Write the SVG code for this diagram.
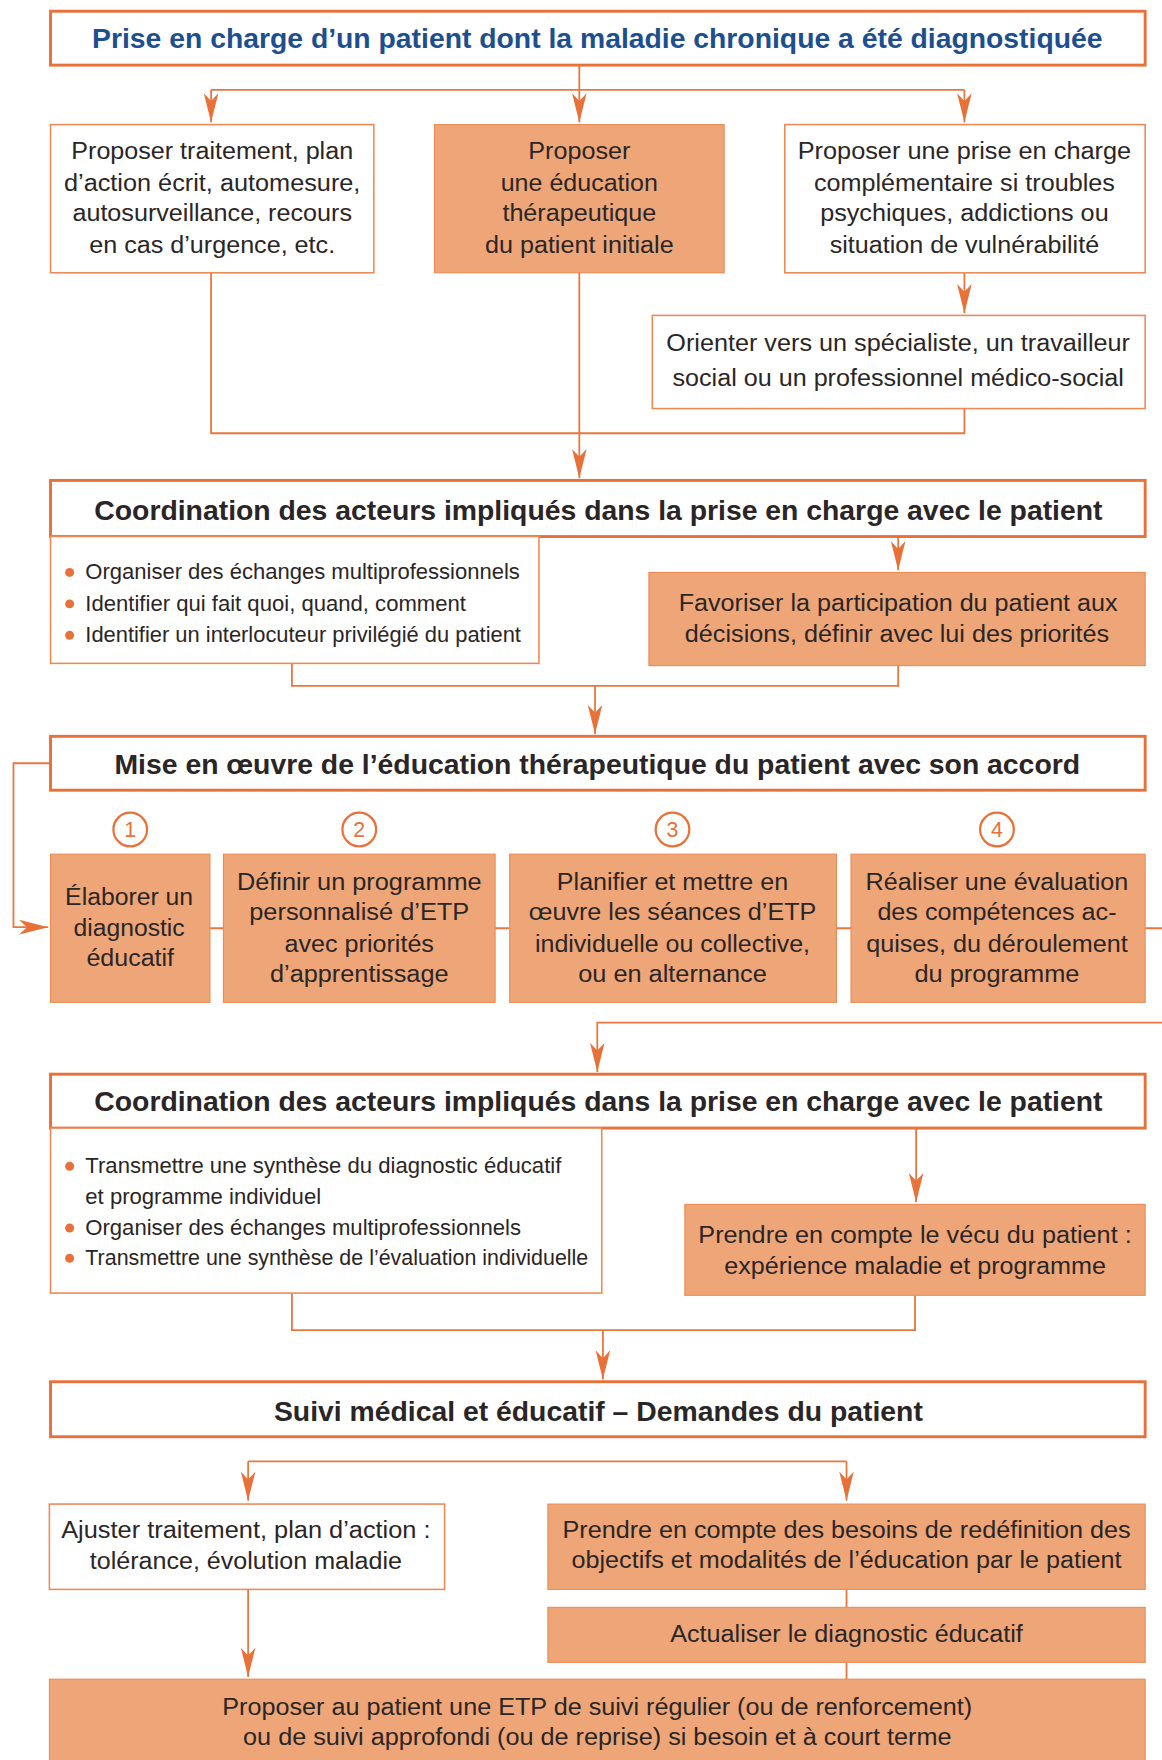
<svg xmlns="http://www.w3.org/2000/svg" width="1162" height="1760" viewBox="0 0 1162 1760">
<defs>
<marker id="ar" markerUnits="userSpaceOnUse" markerWidth="27" markerHeight="14" refX="26" refY="7" orient="auto">
<path d="M0,0.5 L26,7 L0,13.5 L7,7 z" fill="#e8713a"/>
</marker>
<style>
.t{font-family:"Liberation Sans",Arial,sans-serif;fill:#2a2526;text-anchor:middle;font-size:21px}
.l{text-anchor:start;font-size:19px}
.b{font-weight:bold;font-size:24px}
.blue{fill:#1d4f8e}
.hb{fill:#fff;stroke:#e8713a;stroke-width:2.6}
.wb{fill:#fff;stroke:#ec8a55;stroke-width:1.4}
.fb{fill:#eea577;stroke:#ea8c55;stroke-width:1}
.c{fill:none;stroke:#e8773f;stroke-width:1.6}
.a{fill:none;stroke:#e8773f;stroke-width:1.6;marker-end:url(#ar)}
.dot{fill:#e8713a}
.num{fill:#fff;stroke:#e8713a;stroke-width:2}
.nt{font-family:"Liberation Sans",Arial,sans-serif;fill:#e8713a;font-size:19px;text-anchor:middle}
</style>
</defs>
<rect width="1162" height="1760" fill="#fff"/>
<g transform="scale(1.12271,1.12245)">
<g id="connectors">
<path class="c" d="M516 58 V80 M188 80 H859"/>
<path class="a" d="M188 80 V109"/>
<path class="a" d="M516 80 V109"/>
<path class="a" d="M859 80 V109"/>
<path class="a" d="M859 243 V279"/>
<path class="c" d="M188 243 V386 H859 V364"/>
<path class="a" d="M516 243 V426"/>
<path class="a" d="M800 478 V508"/>
<path class="c" d="M260 591 V611 H800 V593"/>
<path class="a" d="M530 611 V654"/>
<path class="a" d="M45 680 H12 V826 H43"/>
<path class="c" d="M187 827 H199 M441 827 H454 M745 827 H758 M1020 827 H1040"/>
<path class="a" d="M1040 911 H532 V955"/>
<path class="a" d="M816 1005 V1071"/>
<path class="c" d="M260 1152 V1185 H815 V1154"/>
<path class="a" d="M537 1185 V1229"/>
<path class="c" d="M221 1302 H754"/>
<path class="a" d="M221 1302 V1337"/>
<path class="a" d="M754 1302 V1337"/>
<path class="c" d="M754 1416 V1432 M754 1481 V1496"/>
<path class="a" d="M221 1416 V1494"/>
</g>

<g id="n-title">
<rect class="hb" x="45" y="10" width="975" height="48"/>
<text class="t b blue" x="532" y="43" textLength="900" lengthAdjust="spacingAndGlyphs">Prise en charge d’un patient dont la maladie chronique a été diagnostiquée</text>
</g>

<g id="n-traitement">
<rect class="wb" x="45" y="111" width="288" height="132"/>
<text class="t" x="189" y="142" textLength="251" lengthAdjust="spacingAndGlyphs">Proposer traitement, plan</text>
<text class="t" x="189" y="170" textLength="264" lengthAdjust="spacingAndGlyphs">d’action écrit, automesure,</text>
<text class="t" x="189" y="197" textLength="249" lengthAdjust="spacingAndGlyphs">autosurveillance, recours</text>
<text class="t" x="189" y="225" textLength="219" lengthAdjust="spacingAndGlyphs">en cas d’urgence, etc.</text>
</g>

<g id="n-etp-initiale">
<rect class="fb" x="387" y="111" width="258" height="132"/>
<text class="t" x="516" y="142" textLength="91" lengthAdjust="spacingAndGlyphs">Proposer</text>
<text class="t" x="516" y="170" textLength="140" lengthAdjust="spacingAndGlyphs">une éducation</text>
<text class="t" x="516" y="197" textLength="137" lengthAdjust="spacingAndGlyphs">thérapeutique</text>
<text class="t" x="516" y="225" textLength="168" lengthAdjust="spacingAndGlyphs">du patient initiale</text>
</g>

<g id="n-complementaire">
<rect class="wb" x="699" y="111" width="321" height="132"/>
<text class="t" x="859" y="142" textLength="297" lengthAdjust="spacingAndGlyphs">Proposer une prise en charge</text>
<text class="t" x="859" y="170" textLength="268" lengthAdjust="spacingAndGlyphs">complémentaire si troubles</text>
<text class="t" x="859" y="197" textLength="257" lengthAdjust="spacingAndGlyphs">psychiques, addictions ou</text>
<text class="t" x="859" y="225" textLength="240" lengthAdjust="spacingAndGlyphs">situation de vulnérabilité</text>
</g>

<g id="n-orienter">
<rect class="wb" x="581" y="281" width="439" height="83"/>
<text class="t" x="800" y="313" textLength="413" lengthAdjust="spacingAndGlyphs">Orienter vers un spécialiste, un travailleur</text>
<text class="t" x="800" y="344" textLength="402" lengthAdjust="spacingAndGlyphs">social ou un professionnel médico-social</text>
</g>

<g id="n-coord1">
<rect class="hb" x="45" y="428" width="975" height="50"/>
<text class="t b" x="533" y="463" textLength="898" lengthAdjust="spacingAndGlyphs">Coordination des acteurs impliqués dans la prise en charge avec le patient</text>
</g>

<g id="n-coord1-list">
<rect class="wb" x="45" y="478" width="435" height="113"/>
<circle class="dot" cx="62" cy="510" r="4"/>
<circle class="dot" cx="62" cy="538" r="4"/>
<circle class="dot" cx="62" cy="566" r="4"/>
<text class="t l" x="76" y="516" textLength="387" lengthAdjust="spacingAndGlyphs">Organiser des échanges multiprofessionnels</text>
<text class="t l" x="76" y="544" textLength="339" lengthAdjust="spacingAndGlyphs">Identifier qui fait quoi, quand, comment</text>
<text class="t l" x="76" y="572" textLength="388" lengthAdjust="spacingAndGlyphs">Identifier un interlocuteur privilégié du patient</text>
</g>

<g id="n-favoriser">
<rect class="fb" x="578" y="510" width="442" height="83"/>
<text class="t" x="800" y="544" textLength="391" lengthAdjust="spacingAndGlyphs">Favoriser la participation du patient aux</text>
<text class="t" x="799" y="572" textLength="378" lengthAdjust="spacingAndGlyphs">décisions, définir avec lui des priorités</text>
</g>

<g id="n-mise">
<rect class="hb" x="45" y="656" width="975" height="48"/>
<text class="t b" x="532" y="690" textLength="860" lengthAdjust="spacingAndGlyphs">Mise en œuvre de l’éducation thérapeutique du patient avec son accord</text>
</g>

<g id="n-step1">
<circle class="num" cx="116" cy="739" r="15"/>
<text class="nt" x="116" y="746">1</text>
<rect class="fb" x="45" y="761" width="142" height="132"/>
<text class="t" x="115" y="806" textLength="114" lengthAdjust="spacingAndGlyphs">Élaborer un</text>
<text class="t" x="115" y="834" textLength="99" lengthAdjust="spacingAndGlyphs">diagnostic</text>
<text class="t" x="116" y="861" textLength="78" lengthAdjust="spacingAndGlyphs">éducatif</text>
</g>

<g id="n-step2">
<circle class="num" cx="320" cy="739" r="15"/>
<text class="nt" x="320" y="746">2</text>
<rect class="fb" x="199" y="761" width="242" height="132"/>
<text class="t" x="320" y="793" textLength="218" lengthAdjust="spacingAndGlyphs">Définir un programme</text>
<text class="t" x="320" y="820" textLength="196" lengthAdjust="spacingAndGlyphs">personnalisé d’ETP</text>
<text class="t" x="320" y="848" textLength="133" lengthAdjust="spacingAndGlyphs">avec priorités</text>
<text class="t" x="320" y="875" textLength="159" lengthAdjust="spacingAndGlyphs">d’apprentissage</text>
</g>

<g id="n-step3">
<circle class="num" cx="599" cy="739" r="15"/>
<text class="nt" x="599" y="746">3</text>
<rect class="fb" x="454" y="761" width="291" height="132"/>
<text class="t" x="599" y="793" textLength="206" lengthAdjust="spacingAndGlyphs">Planifier et mettre en</text>
<text class="t" x="599" y="820" textLength="256" lengthAdjust="spacingAndGlyphs">œuvre les séances d’ETP</text>
<text class="t" x="599" y="848" textLength="245" lengthAdjust="spacingAndGlyphs">individuelle ou collective,</text>
<text class="t" x="599" y="875" textLength="168" lengthAdjust="spacingAndGlyphs">ou en alternance</text>
</g>

<g id="n-step4">
<circle class="num" cx="888" cy="739" r="15"/>
<text class="nt" x="888" y="746">4</text>
<rect class="fb" x="758" y="761" width="262" height="132"/>
<text class="t" x="888" y="793" textLength="234" lengthAdjust="spacingAndGlyphs">Réaliser une évaluation</text>
<text class="t" x="888" y="820" textLength="213" lengthAdjust="spacingAndGlyphs">des compétences ac-</text>
<text class="t" x="888" y="848" textLength="233" lengthAdjust="spacingAndGlyphs">quises, du déroulement</text>
<text class="t" x="888" y="875" textLength="147" lengthAdjust="spacingAndGlyphs">du programme</text>
</g>

<g id="n-coord2">
<rect class="hb" x="45" y="957" width="975" height="48"/>
<text class="t b" x="533" y="990" textLength="898" lengthAdjust="spacingAndGlyphs">Coordination des acteurs impliqués dans la prise en charge avec le patient</text>
</g>

<g id="n-coord2-list">
<rect class="wb" x="45" y="1005" width="491" height="147"/>
<circle class="dot" cx="62" cy="1039" r="4"/>
<circle class="dot" cx="62" cy="1094" r="4"/>
<circle class="dot" cx="62" cy="1121" r="4"/>
<text class="t l" x="76" y="1045" textLength="424" lengthAdjust="spacingAndGlyphs">Transmettre une synthèse du diagnostic éducatif</text>
<text class="t l" x="76" y="1073" textLength="210" lengthAdjust="spacingAndGlyphs">et programme individuel</text>
<text class="t l" x="76" y="1100" textLength="388" lengthAdjust="spacingAndGlyphs">Organiser des échanges multiprofessionnels</text>
<text class="t l" x="76" y="1127" textLength="448" lengthAdjust="spacingAndGlyphs">Transmettre une synthèse de l’évaluation individuelle</text>
</g>

<g id="n-vecu">
<rect class="fb" x="610" y="1073" width="410" height="81"/>
<text class="t" x="815" y="1107" textLength="386" lengthAdjust="spacingAndGlyphs">Prendre en compte le vécu du patient :</text>
<text class="t" x="815" y="1135" textLength="340" lengthAdjust="spacingAndGlyphs">expérience maladie et programme</text>
</g>

<g id="n-suivi">
<rect class="hb" x="45" y="1231" width="975" height="49"/>
<text class="t b" x="533" y="1266" textLength="578" lengthAdjust="spacingAndGlyphs">Suivi médical et éducatif – Demandes du patient</text>
</g>

<g id="n-ajuster">
<rect class="wb" x="44" y="1340" width="352" height="76"/>
<text class="t" x="219" y="1370" textLength="329" lengthAdjust="spacingAndGlyphs">Ajuster traitement, plan d’action :</text>
<text class="t" x="219" y="1398" textLength="278" lengthAdjust="spacingAndGlyphs">tolérance, évolution maladie</text>
</g>

<g id="n-besoins">
<rect class="fb" x="488" y="1340" width="532" height="76"/>
<text class="t" x="754" y="1370" textLength="506" lengthAdjust="spacingAndGlyphs">Prendre en compte des besoins de redéfinition des</text>
<text class="t" x="754" y="1397" textLength="490" lengthAdjust="spacingAndGlyphs">objectifs et modalités de l’éducation par le patient</text>
</g>

<g id="n-actualiser">
<rect class="fb" x="488" y="1432" width="532" height="49"/>
<text class="t" x="754" y="1463" textLength="314" lengthAdjust="spacingAndGlyphs">Actualiser le diagnostic éducatif</text>
</g>

<g id="n-proposer-suivi">
<rect class="fb" x="44" y="1496" width="976" height="80"/>
<text class="t" x="532" y="1528" textLength="668" lengthAdjust="spacingAndGlyphs">Proposer au patient une ETP de suivi régulier (ou de renforcement)</text>
<text class="t" x="532" y="1555" textLength="631" lengthAdjust="spacingAndGlyphs">ou de suivi approfondi (ou de reprise) si besoin et à court terme</text>
</g>
</g>
</svg>
